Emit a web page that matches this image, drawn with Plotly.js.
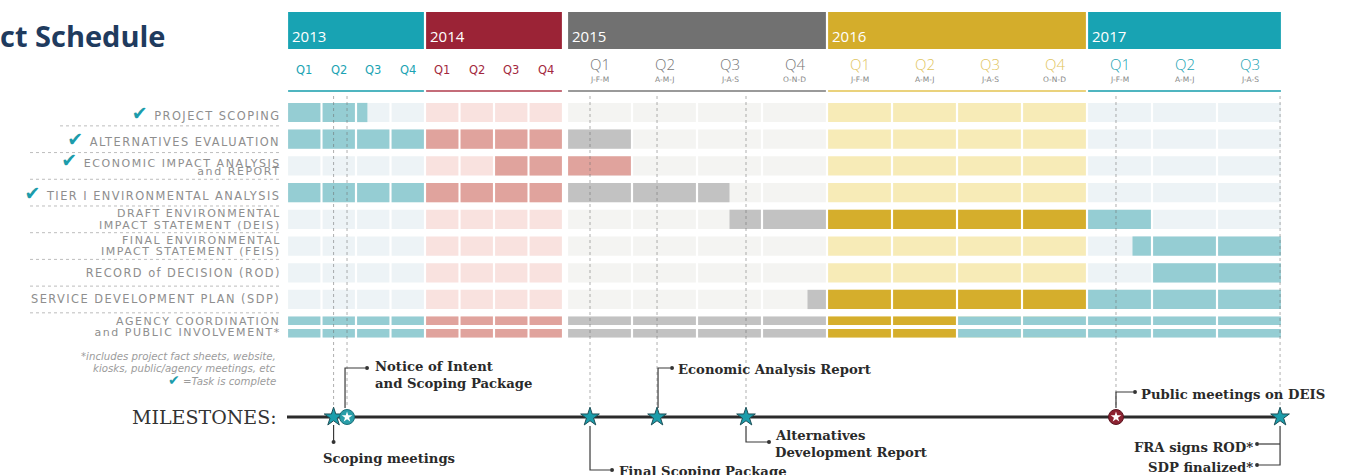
<!DOCTYPE html>
<html><head><meta charset="utf-8">
<script src="https://cdn.plot.ly/plotly-3.0.1.min.js"></script>
<style>html,body{margin:0;padding:0;background:#fff;overflow:hidden}#chart{width:1346px;height:475px}</style>
</head><body><div id="chart"></div>
<script>
// ================= DATA =================
var years = ["2013", "2014", "2015", "2016", "2017"];
var quartersInYear = [4, 4, 4, 4, 3];
var quarterNames = ["Q1", "Q2", "Q3", "Q4"];
var monthNames = ["J-F-M", "A-M-J", "J-A-S", "O-N-D"];
var yearShowsMonths = [false, false, true, true, true];

var taskLabels = [
  ["PROJECT SCOPING"],
  ["ALTERNATIVES EVALUATION"],
  ["ECONOMIC IMPACT ANALYSIS", "and REPORT"],
  ["TIER I ENVIRONMENTAL ANALYSIS"],
  ["DRAFT ENVIRONMENTAL", "IMPACT STATEMENT (DEIS)"],
  ["FINAL ENVIRONMENTAL", "IMPACT STATEMENT (FEIS)"],
  ["RECORD of DECISION (ROD)"],
  ["SERVICE DEVELOPMENT PLAN (SDP)"],
  ["AGENCY COORDINATION", "and PUBLIC INVOLVEMENT*"]
];
var taskComplete = [true, true, true, true, false, false, false, false, false];
// active periods in quarters counted from the start of 2013 Q1; optional 3rd item = colour override
var taskSpans = [
  [[0, 2.33]],
  [[0, 9]],
  [[6, 9, "red"]],
  [[0, 10.5]],
  [[10.5, 17]],
  [[16.7, 19]],
  [[17, 19]],
  [[11.7, 19]],
  [[0, 14], [14, 19, "teal"]]
];

var footnoteLines = ["*includes project fact sheets, website,", "kiosks, public/agency meetings, etc", "=Task is complete"];

var milestoneQuarter = [1.35, 1.74, 8.354, 9.385, 10.754, 16.446, 18.97];
var milestoneKind = ["star", "notice", "star", "star", "star", "meeting", "star"];
var milestoneText = [
  ["Scoping meetings"],
  ["Notice of Intent", "and Scoping Package"],
  ["Final Scoping Package"],
  ["Economic Analysis Report"],
  ["Alternatives", "Development Report"],
  ["Public meetings on DEIS"],
  ["FRA signs ROD*", "SDP finalized*"]
];

// ================= STYLE / GEOMETRY =================
var W = 1346, H = 475;
var X0PX = 287, QPX = 65;                 // 2013 Q1 start (px), px per wide quarter
var NARROW = 34.5 / 65, YEARGAP = 4 / 65, GAP = 2.2 / 65;
var ROW0PX = 112.5, ROWPX = 26.71;
var headerCol = ["#18a3b3", "#9b2336", "#717171", "#d4ad2b", "#18a3b3"];
var qLabelCol = ["#1ba3b3", "#a3283e", "#777777", "#dfc560", "#1ba3b3"];
var underCol  = ["#4fb5c0", "#c46c79", "#9a9a9a", "#ead27c", "#4fb5c0"];
var activeCol = ["#95cdd3", "#e0a39d", "#c2c2c2", "#d5ae2c", "#95cdd3"];
var idleCol   = ["#edf3f6", "#f9e2df", "#f4f4f2", "#f7ebb7", "#edf3f6"];
var namedCol  = {red: "#e0a39d", teal: "#95cdd3"};
var CHECK = "#1c9cab";

function uX(px) { return (px - X0PX) / QPX; }
function rY(px) { return (px - ROW0PX) / ROWPX; }

var qStart = [], qWidth = [], qYear = [], qIdx = [];
(function () {
  var u = 0;
  for (var y = 0; y < years.length; y++) {
    if (y === 2) u += YEARGAP;
    for (var k = 0; k < quartersInYear[y]; k++) {
      var w = y < 2 ? NARROW : 1;
      qStart.push(u); qWidth.push(w); qYear.push(y); qIdx.push(k); u += w;
    }
  }
})();
var NQ = qStart.length;
function X(q) {
  if (q >= NQ) return qStart[NQ - 1] + qWidth[NQ - 1];
  var i = Math.floor(q);
  return qStart[i] + (q - i) * qWidth[i];
}
function qEnd(i) { return qStart[i] + qWidth[i]; }

var AGENCY = 8.03;
function rowBars(r) {
  if (r < 8) return [{y: r, w: 0.72}];
  return [{y: AGENCY - 0.235, w: 0.32}, {y: AGENCY + 0.235, w: 0.32}];
}

var annotations = [], shapes = [], traces = [];
var spacedAnn = {};
function ann(o) { o.showarrow = false; annotations.push(o); return annotations.length - 1; }
function barTrace(list) {
  return {type: "bar", orientation: "h",
    y: list.map(function (b) { return b.y; }),
    x: list.map(function (b) { return b.len; }),
    base: list.map(function (b) { return b.base; }),
    width: list.map(function (b) { return b.w; }),
    marker: {color: list.map(function (b) { return b.c; }), line: {width: 0}},
    hoverinfo: "skip", showlegend: false};
}

// ---- backgrounds ----
var bg = [];
for (var r = 0; r < taskLabels.length; r++) {
  rowBars(r).forEach(function (rb) {
    for (var i = 0; i < NQ; i++) {
      bg.push({y: rb.y, w: rb.w, base: qStart[i] + GAP / 2, len: qWidth[i] - GAP, c: idleCol[qYear[i]]});
    }
  });
}
traces.push(barTrace(bg));

// ---- active ----
var act = [];
taskSpans.forEach(function (spans, r) {
  spans.forEach(function (s) {
    var a = s[0], b = s[1];
    for (var i = Math.floor(a); i < Math.ceil(b); i++) {
      var lo = Math.max(a, i), hi = Math.min(b, i + 1);
      var x0 = (lo === i) ? qStart[i] + GAP / 2 : X(lo);
      var x1 = (hi === i + 1) ? qEnd(i) - GAP / 2 : X(hi);
      var c = s[2] ? namedCol[s[2]] : activeCol[qYear[i]];
      rowBars(r).forEach(function (rb) { act.push({y: rb.y, w: rb.w, base: x0, len: x1 - x0, c: c}); });
    }
  });
});
traces.push(barTrace(act));

// ---- year headers & underlines ----
var hdr = [], und = [];
var qi = 0;
years.forEach(function (yr, y) {
  var first = qi, last = qi + quartersInYear[y] - 1;
  var x0 = qStart[first] + GAP / 2, x1 = qEnd(last) - GAP / 2;
  hdr.push({y: rY(30.5), w: 37 / ROWPX, base: x0, len: x1 - x0, c: headerCol[y]});
  und.push({y: rY(91), w: 2.2 / ROWPX, base: x0, len: x1 - x0, c: underCol[y]});
  ann({xref: "x", yref: "y", x: qStart[first], y: rY(36), xanchor: "left", yanchor: "middle", xshift: 3,
    text: yr, font: {family: "Open Sans", size: 15, color: "#ffffff"}});
  for (var k = 0; k < quartersInYear[y]; k++) {
    var i = qi + k;
    if (yearShowsMonths[y]) {
      ann({xref: "x", yref: "y", x: X(i + 0.5), y: rY(64), xanchor: "center", yanchor: "middle",
        text: quarterNames[k], font: {family: "Open Sans", size: 15, color: qLabelCol[y], weight: 300}});
      ann({xref: "x", yref: "y", x: X(i + 0.5), y: rY(79), xanchor: "center", yanchor: "middle",
        text: monthNames[k], font: {family: "DejaVu Sans", size: 7.5, color: "#888888"}});
    } else {
      ann({xref: "x", yref: "y", x: X(i + 0.5), y: rY(70), xanchor: "center", yanchor: "middle",
        text: quarterNames[k], font: {family: "DejaVu Sans", size: 11.5, color: qLabelCol[y]}});
    }
  }
  qi += quartersInYear[y];
});
traces.push(barTrace(hdr));
traces.push(barTrace(und));

// ---- task labels ----
taskLabels.forEach(function (lines, r) {
  var cy = r < 8 ? r : AGENCY;
  var two = lines.length > 1;
  var shifts = two ? [5.9, -5.7] : [0];
  lines.forEach(function (t, j) {
    var txt = (j === 0 && taskComplete[r]) ? '<span style="color:' + CHECK + ';font-size:19px">✔</span> ' + t : t;
    var id = ann({xref: "x", yref: "y", x: uX(281), y: cy, yshift: shifts[j], xanchor: "right", yanchor: "middle",
      text: txt, font: {family: "DejaVu Sans", size: two ? 11 : 11.4, color: "#8e8e8e"}});
    spacedAnn[id] = two ? 1.55 : 1.45;
  });
  if (r < 8) {
    shapes.push({type: "line", xref: "x", yref: "y", x0: uX(r === 0 ? 60 : 30), x1: uX(280), y0: r + 0.5, y1: r + 0.5,
      line: {color: "#bdbdbd", width: 1, dash: "dot"}});
  }
});

// ---- title, footnotes ----
ann({xref: "paper", yref: "paper", x: 0, y: 1 - 35 / H, xanchor: "left", yanchor: "middle", xshift: -2,
  text: "ct Schedule", font: {family: "Open Sans", size: 29, color: "#1f3b5e", weight: 700}});
[356.5, 368, 380].forEach(function (py, j) {
  var t = footnoteLines[j];
  if (j === 2) t = '<span style="color:' + CHECK + ';font-size:14px;font-style:normal">✔</span> ' + t;
  ann({xref: "x", yref: "y", x: uX(278), y: rY(py), xanchor: "right", yanchor: "middle",
    text: t, font: {family: "DejaVu Sans", size: 10.2, color: "#9c9c9c", style: "italic"}});
});

// ---- milestones ----
var MS = rY(417);
ann({xref: "x", yref: "y", x: uX(279), y: MS, xanchor: "right", yanchor: "middle",
  text: "MILESTONES:", font: {family: "DejaVu Serif", size: 19, color: "#333333"}});

// dotted guides
var gx = [], gy = [];
milestoneQuarter.forEach(function (q) { gx.push(X(q), X(q), null); gy.push(rY(96), rY(405), null); });
traces.push({type: "scatter", mode: "lines", x: gx, y: gy, line: {color: "rgba(110,110,110,0.55)", width: 1, dash: "dot"},
  hoverinfo: "skip", showlegend: false});

// main line
traces.push({type: "scatter", mode: "lines", x: [X(0), X(NQ)], y: [MS, MS], line: {color: "#2b2b2b", width: 3},
  hoverinfo: "skip", showlegend: false});

// callout layout (pixel offsets from marker): leader polylines, dots, text anchor
var callouts = [
  {legs: [[[0, 8], [0, 25]]], dots: [[0, 25]], tx: -13, ty: [41], anchor: "left"},
  {legs: [[[-2, -9], [-2, -49], [18, -49]]], dots: [[20, -49]], tx: 26, ty: [-51, -34], anchor: "left"},
  {legs: [[[0, 9], [0, 53], [20, 53]]], dots: [[22, 53]], tx: 27, ty: [54], anchor: "left"},
  {legs: [[[1, -9], [1, -49], [13, -49]]], dots: [[15, -49]], tx: 19, ty: [-48], anchor: "left"},
  {legs: [[[0, 9], [0, 25], [22, 25]]], dots: [[23, 25]], tx: 27, ty: [18, 35], anchor: "left"},
  {legs: [[[0, -9], [0, -25], [17, -25]]], dots: [[19, -25]], tx: 23, ty: [-23], anchor: "left"},
  {legs: [[[0, 9], [0, 48], [-21, 48]], [[0, 27], [-21, 27]]], dots: [[-23, 27], [-23, 48]], tx: -25, ty: [30, 50], anchor: "right"}
];
var lx = [], ly = [], dx = [], dy = [];
milestoneQuarter.forEach(function (q, m) {
  var c = callouts[m], mx = X(q);
  c.legs.forEach(function (leg) {
    leg.forEach(function (p) { lx.push(mx + p[0] / QPX); ly.push(MS + p[1] / ROWPX); });
    lx.push(null); ly.push(null);
  });
  c.dots.forEach(function (p) { dx.push(mx + p[0] / QPX); dy.push(MS + p[1] / ROWPX); });
  milestoneText[m].forEach(function (t, j) {
    ann({xref: "x", yref: "y", x: mx + c.tx / QPX, y: MS + c.ty[j] / ROWPX, xanchor: c.anchor, yanchor: "middle",
      text: t, font: {family: "DejaVu Serif", size: 13.2, color: "#2a2a2a", weight: 700}});
  });
});
traces.push({type: "scatter", mode: "lines", x: lx, y: ly, line: {color: "#3a3a3a", width: 1.2}, hoverinfo: "skip", showlegend: false});
traces.push({type: "scatter", mode: "markers", x: dx, y: dy, marker: {color: "#333333", size: 4}, hoverinfo: "skip", showlegend: false});

// markers
var sx = [], cx = [], cc = [], cl = [];
milestoneQuarter.forEach(function (q, m) {
  if (milestoneKind[m] === "star") sx.push(X(q));
  else { cx.push(X(q)); cc.push(milestoneKind[m] === "notice" ? "#2a9ea9" : "#8c2231"); cl.push(milestoneKind[m] === "notice" ? "#1d6f78" : "#5a1520"); }
});
traces.push({type: "scatter", mode: "markers", x: sx, y: sx.map(function () { return MS; }),
  marker: {symbol: "star", size: 14, color: "#1c9dab", line: {color: "#1d4f57", width: 1}}, hoverinfo: "skip", showlegend: false});
traces.push({type: "scatter", mode: "markers", x: cx, y: cx.map(function () { return MS; }),
  marker: {symbol: "circle", size: 15, color: cc, line: {color: cl, width: 1}}, hoverinfo: "skip", showlegend: false});
traces.push({type: "scatter", mode: "markers", x: cx, y: cx.map(function () { return MS; }),
  marker: {symbol: "star", size: 8, color: "#ffffff", line: {width: 0}}, hoverinfo: "skip", showlegend: false});

var layout = {
  width: W, height: H, margin: {l: 0, r: 0, t: 0, b: 0, pad: 0},
  paper_bgcolor: "#ffffff", plot_bgcolor: "#ffffff",
  font: {family: "DejaVu Sans"},
  xaxis: {range: [uX(0), uX(W)], visible: false, fixedrange: true},
  yaxis: {range: [rY(H), rY(0)], visible: false, fixedrange: true},
  barmode: "overlay", showlegend: false, hovermode: false,
  annotations: annotations, shapes: shapes
};
Plotly.newPlot("chart", traces, layout, {displayModeBar: false, staticPlot: true}).then(function () {
  document.querySelectorAll("#chart g.annotation").forEach(function (g) {
    var idx = +g.getAttribute("data-index");
    if (!(idx in spacedAnn)) return;
    g.querySelectorAll("text").forEach(function (t) {
      var before = t.getBBox();
      var right0 = before.x + before.width;
      t.style.letterSpacing = spacedAnn[idx] + "px";
      var after = t.getBBox();
      var shift = right0 - (after.x + after.width) + spacedAnn[idx];
      if (!t.getAttribute("transform")) t.setAttribute("transform", "translate(" + shift.toFixed(2) + ",0)");
    });
  });
});
</script>
</body></html>
